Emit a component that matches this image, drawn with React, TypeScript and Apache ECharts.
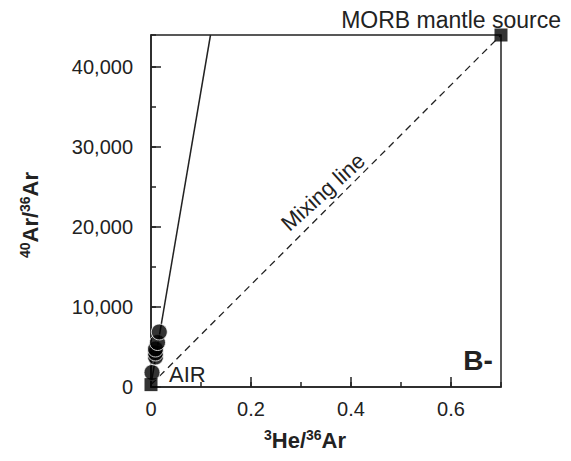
import React, { useEffect, useRef } from "react";
import * as echarts from "echarts";

// ---- data ----
const samplePoints: [number, number][] = [
  [0.002, 1810],
  [0.009, 3750],
  [0.009, 4250],
  [0.009, 4750],
  [0.013, 5560],
  [0.0166, 6875],
];
const airPoint: [number, number] = [0, 296];
const morbPoint: [number, number] = [0.7, 44000];
const steepLine: [number, number][] = [
  [0, 296],
  [0.119, 44000],
];
const mixingLine: [number, number][] = [airPoint, morbPoint];
const xTickLabels = ["0", "0.2", "0.4", "0.6"];
const yTickLabels = ["0", "10,000", "20,000", "30,000", "40,000"];
const xRange = [0, 0.7];
const yRange = [0, 44000];

const FONT = "'Liberation Sans', Arial, Helvetica, sans-serif";
const INK = "#222";

export default function App() {
  const ref = useRef<HTMLDivElement>(null);
  useEffect(() => {
    if (!ref.current) return;
    const chart = echarts.init(ref.current, null, { renderer: "svg" });
    const lineStyle = { color: INK, width: 1.5 };
    const option: any = {
      animation: false,
      backgroundColor: "#fff",
      grid: {
        left: 151,
        right: 70,
        top: 35,
        bottom: 74,
        show: true,
        borderColor: INK,
        borderWidth: 1.5,
        backgroundColor: "transparent",
      },
      xAxis: [
        {
          type: "value",
          min: xRange[0],
          max: xRange[1],
          interval: 0.2,
          position: "bottom",
          axisLine: { show: true, lineStyle },
          axisTick: { show: true, inside: true, length: 10, lineStyle },
          axisLabel: {
            fontSize: 20,
            color: INK,
            fontFamily: FONT,
            margin: 12,
            showMaxLabel: false,
            formatter: (v: number) => xTickLabels[Math.round(v / 0.2)] ?? "",
          },
          splitLine: { show: false },
        },
        {
          type: "value",
          min: xRange[0],
          max: xRange[1],
          interval: 0.1,
          position: "bottom",
          axisLine: { show: false },
          axisTick: { show: true, inside: true, length: 5, lineStyle },
          axisLabel: { show: false },
          splitLine: { show: false },
        },
      ],
      yAxis: [
        {
          type: "value",
          min: yRange[0],
          max: yRange[1],
          interval: 10000,
          position: "left",
          axisLine: { show: true, lineStyle },
          axisTick: { show: true, inside: true, length: 10, lineStyle },
          axisLabel: {
            fontSize: 20,
            color: INK,
            fontFamily: FONT,
            margin: 18,
            showMaxLabel: false,
            formatter: (v: number) => yTickLabels[Math.round(v / 10000)] ?? "",
          },
          splitLine: { show: false },
        },
        {
          type: "value",
          min: yRange[0],
          max: yRange[1],
          interval: 5000,
          position: "left",
          axisLine: { show: false },
          axisTick: { show: true, inside: true, length: 5, lineStyle },
          axisLabel: { show: false },
          splitLine: { show: false },
        },
      ],
      series: [
        {
          type: "line",
          data: steepLine,
          symbol: "none",
          lineStyle: { color: INK, width: 1.5 },
          z: 2,
        },
        {
          type: "line",
          data: mixingLine,
          symbol: "none",
          lineStyle: { color: INK, width: 1.3, type: [7, 5] },
          z: 2,
        },
        {
          type: "scatter",
          data: samplePoints,
          symbol: "circle",
          symbolSize: 16,
          itemStyle: { color: "#000", borderColor: "#fff", borderWidth: 1 },
          clip: false,
          z: 4,
        },
        {
          type: "scatter",
          data: [airPoint, morbPoint],
          symbol: "rect",
          symbolSize: 13,
          itemStyle: { color: "#000" },
          clip: false,
          z: 5,
        },
      ],
      graphic: [
        {
          type: "text",
          x: 561,
          y: 20,
          style: {
            text: "MORB mantle source",
            font: `23px ${FONT}`,
            fill: INK,
            align: "right",
            verticalAlign: "middle",
          },
        },
        {
          type: "text",
          x: 169,
          y: 374,
          style: {
            text: "AIR",
            font: `22px ${FONT}`,
            fill: INK,
            align: "left",
            verticalAlign: "middle",
          },
        },
        {
          type: "text",
          x: 478,
          y: 360,
          style: {
            text: "B-",
            font: `bold 28px ${FONT}`,
            fill: INK,
            align: "center",
            verticalAlign: "middle",
          },
        },
        {
          type: "text",
          x: 323,
          y: 192,
          rotation: (42 * Math.PI) / 180,
          style: {
            text: "Mixing line",
            font: `22px ${FONT}`,
            fill: INK,
            align: "center",
            verticalAlign: "middle",
          },
        },
        {
          type: "text",
          x: 305,
          y: 440,
          style: {
            text: "{s|3}{m|He/}{s|36}{m|Ar}",
            align: "center",
            verticalAlign: "middle",
            rich: {
              m: { fontSize: 22, fontWeight: "bold", fontFamily: FONT, fill: INK, lineHeight: 24 },
              s: { fontSize: 14, fontWeight: "bold", fontFamily: FONT, fill: INK, verticalAlign: "top", lineHeight: 14 },
            },
          },
        },
        {
          type: "text",
          x: 30,
          y: 215,
          rotation: Math.PI / 2,
          style: {
            text: "{s|40}{m|Ar/}{s|36}{m|Ar}",
            align: "center",
            verticalAlign: "middle",
            rich: {
              m: { fontSize: 22, fontWeight: "bold", fontFamily: FONT, fill: INK, lineHeight: 24 },
              s: { fontSize: 14, fontWeight: "bold", fontFamily: FONT, fill: INK, verticalAlign: "top", lineHeight: 14 },
            },
          },
        },
      ],
    };
    chart.setOption(option);
    return () => chart.dispose();
  }, []);
  return (
    <div
      ref={ref}
      style={{ position: "fixed", left: 0, top: 0, width: 571, height: 461, background: "#fff" }}
    />
  );
}
